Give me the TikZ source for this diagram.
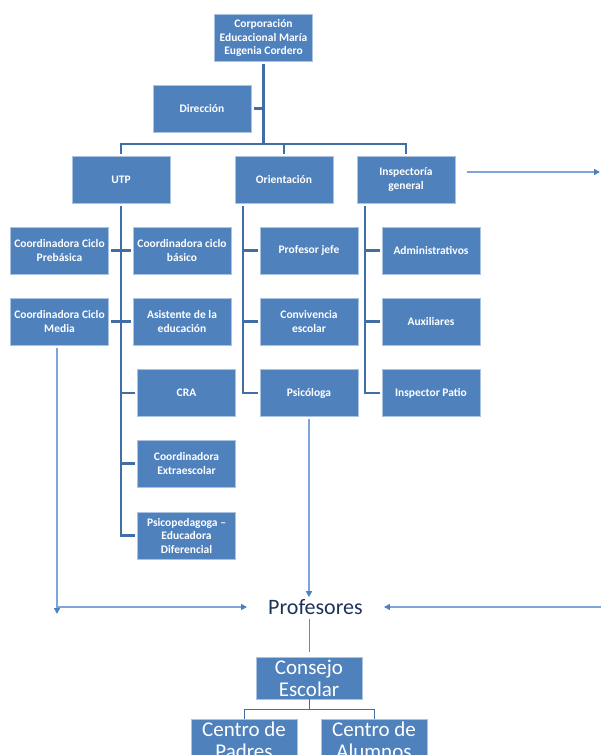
\documentclass[tikz,border=0pt]{standalone}
\usepackage{fontspec}
\setmainfont{Carlito}
\usetikzlibrary{arrows.meta}

\definecolor{boxblue}{RGB}{79,129,189}
\definecolor{edgeblue}{RGB}{170,195,225}
\definecolor{linkblue}{RGB}{65,110,165}
\definecolor{arrowblue}{RGB}{125,165,215}
\definecolor{navytext}{RGB}{30,50,90}
\definecolor{cyanline}{RGB}{0,176,240}

\tikzset{
  unit/.style={draw=edgeblue, line width=0.8pt, fill=boxblue, text=white,
    font=\bfseries\fontsize{11.5}{13.5}\selectfont, align=center,
    minimum width=98pt, minimum height=47pt, inner sep=1pt, outer sep=2.5pt},
  council/.style={draw=edgeblue, line width=0.8pt, fill=boxblue, text=white,
    font=\fontsize{21}{22}\selectfont, align=center,
    minimum width=106pt, minimum height=42pt, inner sep=0pt},
  orgline/.style={draw=linkblue, line width=2.8pt},
  flow/.style={draw=arrowblue, line width=1.5pt, ->},
}

\begin{document}
\begin{tikzpicture}[x=1pt, y=-1pt, >={Triangle[length=6pt, width=6pt, color=boxblue]}]
    \useasboundingbox (0,0) rectangle (601,755);
    \clip (0,0) rectangle (601,755);

    % Top level
    \node[unit] (corp) at (263.5,38) {Corporación\\Educacional María\\Eugenia Cordero};
    \node[unit] (dir) at (202,108.5) {Dirección};

    % Second level
    \node[unit] (utp) at (121,179.5) {UTP};
    \node[unit] (ori) at (284,179.5) {Orientación};
    \node[unit] (insp) at (406,179.5) {Inspectoría\\general};

    % UTP units
    \node[unit] (prebas) at (59.5,250.5) {Coordinadora Ciclo\\Prebásica};
    \node[unit] (basico) at (182,250.5) {Coordinadora ciclo\\básico};
    \node[unit] (media) at (59.5,321.5) {Coordinadora Ciclo\\Media};
    \node[unit] (asist) at (182,321.5) {Asistente de la\\educación};
    \node[unit] (cra) at (186.5,393) {CRA};
    \node[unit] (extra) at (186.5,463.5) {Coordinadora\\Extraescolar};
    \node[unit] (psicoped) at (186.5,535.5) {Psicopedagoga –\\Educadora\\Diferencial};

    % Orientacion units
    \node[unit] (jefe) at (309,250.5) {Profesor jefe};
    \node[unit] (conv) at (309,321.5) {Convivencia\\escolar};
    \node[unit] (psico) at (309,393) {Psicóloga};

    % Inspectoria units
    \node[unit] (admin) at (431,250.5) {Administrativos};
    \node[unit] (aux) at (431,321.5) {Auxiliares};
    \node[unit] (patio) at (431,393) {Inspector Patio};

    % Lower part
    \node[font=\fontsize{22}{22}\selectfont, text=navytext, inner xsep=21pt, inner ysep=2pt] (prof) at (315.5,607) {Profesores};
    \node[council] (consejo) at (309,678) {Consejo\\Escolar};
    \node[council, anchor=north] (padres) at (244,719) {Centro de\\Padres};
    \node[council, anchor=north] (alumnos) at (374,719) {Centro de\\Alumnos};

    % Helper points
    \coordinate (hub) at (263.5,144);
    \coordinate (orispine) at (243,206);
    \coordinate (inspspine) at (365,206);
    \coordinate (iright) at (600,172);
    \coordinate (mbottom) at (57,614);
    \coordinate (mcorner) at (57,607);
    \coordinate (pright) at (601,607);
    \coordinate (cjoin) at (309,709);

    % Hierarchy lines
    \draw[orgline] (corp.south) -- (hub);
    \draw[orgline] (dir.east) -- (dir.east -| hub);
    \draw[orgline] (hub) -| (utp.north);
    \draw[orgline] (hub) -| (ori.north);
    \draw[orgline] (hub) -| (insp.north);

    \draw[orgline] (utp.south) |- (psicoped.west);
    \draw[orgline] (prebas.east) -- (basico.west);
    \draw[orgline] (media.east) -- (asist.west);
    \draw[orgline] (cra.west) -- (cra.west -| utp.south);
    \draw[orgline] (extra.west) -- (extra.west -| utp.south);

    \draw[orgline] (orispine) |- (psico.west);
    \draw[orgline] (jefe.west) -- (jefe.west -| orispine);
    \draw[orgline] (conv.west) -- (conv.west -| orispine);

    \draw[orgline] (inspspine) |- (patio.west);
    \draw[orgline] (admin.west) -- (admin.west -| inspspine);
    \draw[orgline] (aux.west) -- (aux.west -| inspspine);

    % Arrows towards Profesores
    \draw[flow, shorten <=9pt] (insp.east |- iright) -- (iright);
    \draw[flow] (media.south -| mbottom) -- (mbottom);
    \draw[flow] (mcorner) -- (prof.west);
    \draw[flow] (psico.south) -- (psico.south |- prof.north);
    \draw[flow] (pright) -- (prof.east);

    % Council
    \draw[cyanline, line width=1pt, shorten <=2pt, shorten >=5pt] (consejo.north |- prof.south) -- (consejo.north);
    \draw[linkblue, line width=1pt] (consejo.south) -- (cjoin);
    \draw[linkblue, line width=1pt] (cjoin) -| (padres.north);
    \draw[linkblue, line width=1pt] (cjoin) -| (alumnos.north);

\end{tikzpicture}
\end{document}
